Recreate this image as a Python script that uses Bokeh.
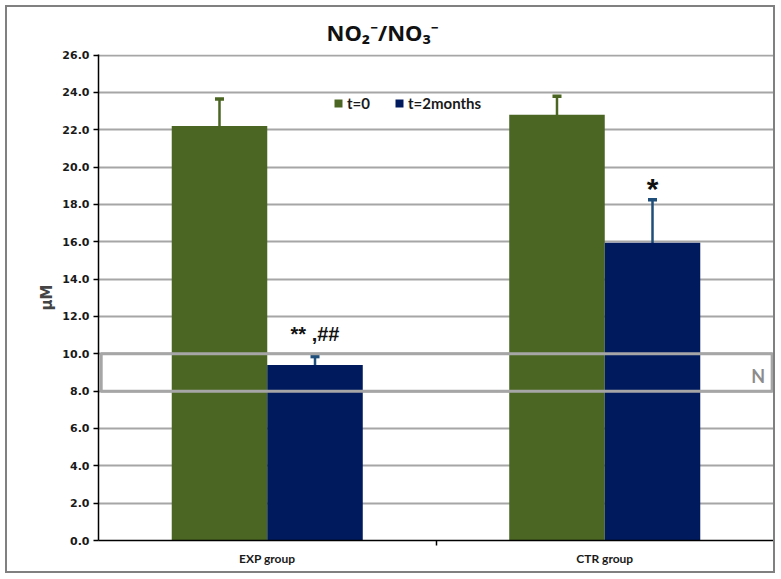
from bokeh.plotting import figure
from bokeh.models import (Range1d, FixedTicker, Whisker, TeeHead, ColumnDataSource,
                          Legend, LegendItem, PrintfTickFormatter)
from bokeh.embed import file_html
from bokeh.resources import INLINE
from bokeh.core.properties import value

# ---- data ----
categories = ["EXP group", "CTR group"]
series = ["t=0", "t=2months"]
t0_mean = [22.2, 22.8]
t0_err = [1.45, 1.0]
t2_mean = [9.4, 15.95]
t2_err = [0.45, 2.3]
sig_labels = ["** ,##", "*"]
normal_range = [8.0, 10.0]
normal_label = "N"
y_ticks = [0, 2, 4, 6, 8, 10, 12, 14, 16, 18, 20, 22, 24, 26]
title_text = "NO₂⁻/NO₃⁻"
y_label = "µM"

GREEN = "#4a6622"
NAVY = "#001a5e"
ERR_BLUE = "#1f4e7a"
GRID = "#a6a6a6"

n = len(categories)
centers = [i + 0.5 for i in range(n)]
bw = 0.283
off = bw / 2

p = figure(width=766, height=564, output_backend="svg", toolbar_location=None,
           x_range=Range1d(0, n), y_range=Range1d(0, y_ticks[-1] + 0.03),
           min_border_left=91, min_border_right=0, min_border_top=46, min_border_bottom=31)
p.outline_line_color = None
p.styles = {"margin-left": "7px", "margin-top": "7px", "outline": "2px solid #808080"}

# title
p.title.text = title_text
p.title.align = "left"
p.title.offset = 228
p.title.text_font = "Noto Sans"
p.title.text_font_style = "bold"
p.title.text_font_size = "22px"
p.title.text_color = "#111111"
p.title.standoff = 15

# bars
src0 = ColumnDataSource(dict(x=[c - off for c in centers], top=t0_mean,
                             upper=[m + e for m, e in zip(t0_mean, t0_err)],
                             lower=[m - e for m, e in zip(t0_mean, t0_err)]))
src2 = ColumnDataSource(dict(x=[c + off for c in centers], top=t2_mean,
                             upper=[m + e for m, e in zip(t2_mean, t2_err)],
                             lower=[m - e for m, e in zip(t2_mean, t2_err)]))
r0 = p.vbar(x="x", top="top", width=bw, source=src0, fill_color=GREEN, line_color=None)
r2 = p.vbar(x="x", top="top", width=bw, source=src2, fill_color=NAVY, line_color=None)

# normal range box
p.quad(left=[0.008], right=[n - 0.004], bottom=[normal_range[0]], top=[normal_range[1]],
       fill_alpha=0, line_color=GRID, line_width=3)
p.text(x=[n - 0.025], y=[(normal_range[0] + normal_range[1]) / 2], text=[normal_label],
       text_align="right", text_baseline="middle", y_offset=4,
       text_font=value("Lato"), text_font_style="bold", text_font_size="18px",
       text_color="#8c8c8c")

# error bars
for src, col in ((src0, GREEN), (src2, ERR_BLUE)):
    w = Whisker(source=src, base="x", upper="upper", lower="lower",
                line_color=col, line_width=2.5,
                upper_head=TeeHead(size=9, line_color=col, line_width=3.5),
                lower_head=TeeHead(size=9, line_color=col, line_width=3.5))
    p.add_layout(w)

# significance labels
p.text(x=[centers[0] + off], y=[src2.data["upper"][0]], text=[sig_labels[0]],
       text_align="center", text_baseline="bottom", y_offset=-12,
       text_font=value("Liberation Sans"), text_font_style="bold", text_font_size="20px",
       text_color="#111111")
p.text(x=[centers[1] + off], y=[src2.data["upper"][1]], text=[sig_labels[1]],
       text_align="center", text_baseline="bottom", y_offset=5,
       text_font=value("Liberation Sans"), text_font_style="bold", text_font_size="30px",
       text_color="#111111")

# axes
p.xgrid.visible = False
p.ygrid.grid_line_color = GRID
p.ygrid.grid_line_width = 2
p.yaxis.ticker = FixedTicker(ticks=y_ticks)
p.yaxis.formatter = PrintfTickFormatter(format="%.1f")
p.yaxis.major_tick_out = 5
p.yaxis.major_tick_in = 0
p.yaxis.minor_tick_line_color = None
p.yaxis.axis_line_color = "black"
p.yaxis.axis_line_width = 1.5
p.yaxis.major_tick_line_color = "black"
p.yaxis.major_tick_line_width = 1.5
p.yaxis.major_label_text_font = "DejaVu Sans"
p.yaxis.major_label_text_font_style = "bold"
p.yaxis.major_label_text_font_size = "11px"
p.yaxis.major_label_text_color = "#1a1a1a"
p.yaxis.major_label_standoff = 4
p.yaxis.axis_label = y_label
p.yaxis.axis_label_text_font = "DejaVu Sans"
p.yaxis.axis_label_text_font_style = "bold"
p.yaxis.axis_label_text_font_size = "15px"
p.yaxis.axis_label_standoff = 3

p.xaxis.ticker = FixedTicker(ticks=centers, minor_ticks=[c + 0.5 for c in centers[:-1]])
p.xaxis.major_label_overrides = {c: lab for c, lab in zip(centers, categories)}
p.xaxis.major_tick_line_color = None
p.xaxis.major_tick_out = 0
p.xaxis.major_tick_in = 0
p.xaxis.minor_tick_out = 5
p.xaxis.minor_tick_in = 0
p.xaxis.minor_tick_line_color = "black"
p.xaxis.minor_tick_line_width = 1.5
p.xaxis.axis_line_color = "black"
p.xaxis.axis_line_width = 1.5
p.xaxis.major_label_text_font = "Lato"
p.xaxis.major_label_text_font_style = "bold"
p.xaxis.major_label_text_font_size = "12px"
p.xaxis.major_label_text_color = "#1a1a1a"
p.xaxis.major_label_standoff = 5

# legend
legend = Legend(items=[LegendItem(label=series[0], renderers=[r0]),
                       LegendItem(label=series[1], renderers=[r2])],
                orientation="horizontal", location=(235, 428),
                glyph_width=10, glyph_height=10, label_standoff=4, spacing=24,
                padding=2, border_line_color=None, background_fill_alpha=0,
                label_text_font="Lato", label_text_font_style="bold",
                label_text_font_size="15px", label_text_color="#1a1a1a")
p.add_layout(legend, "center")

open("out.html", "w").write(file_html(p, INLINE))
